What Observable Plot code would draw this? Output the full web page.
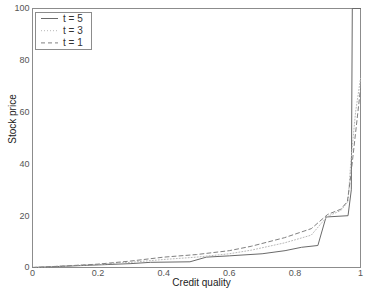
<!DOCTYPE html>
<html><head><meta charset="utf-8">
<script src="https://cdn.jsdelivr.net/npm/d3@7"></script>
<script src="https://cdn.jsdelivr.net/npm/@observablehq/plot@0.6"></script>
<style>
body{margin:0;background:#fff;font-family:"Liberation Sans",Arial,sans-serif;}
#wrap{position:relative;width:367px;height:290px;}
#legend{position:absolute;left:35px;top:12px;}
</style></head><body>
<div id="wrap"></div>
<script>
const seriesNames = ["t = 5", "t = 3", "t = 1"];
const xTicks = [0, 0.2, 0.4, 0.6, 0.8, 1];
const yTicks = [0, 20, 40, 60, 80, 100];

const t5x = [0, 0.1, 0.2, 0.3, 0.36, 0.48, 0.53, 0.6, 0.7, 0.77, 0.82, 0.87, 0.895, 0.962, 0.972, 0.975, 1];
const t5y = [0, 0.5, 1.0, 1.5, 2.0, 2.2, 4.0, 4.5, 5.3, 6.5, 7.8, 8.5, 19.5, 20, 30, 100, 100];

const t3x = [0, 0.1, 0.2, 0.3, 0.4, 0.5, 0.6, 0.667, 0.768, 0.85, 0.88, 0.9, 0.94, 0.962, 0.97, 0.985, 1];
const t3y = [0, 0.6, 1.2, 2.0, 3.1, 4.0, 5.3, 6.7, 9.5, 12.5, 17, 19.8, 22, 25.5, 40, 60, 73];

const t1x = [0, 0.1, 0.2, 0.3, 0.4, 0.5, 0.6, 0.667, 0.768, 0.85, 0.9, 0.94, 0.96, 0.97, 0.985, 1];
const t1y = [0, 0.6, 1.3, 2.5, 4.0, 5.0, 6.5, 8.2, 11.5, 15, 20.5, 22.5, 25.5, 35, 52, 69];

const styles = {
  "t = 5": {stroke: "#6a6a6a", dash: null},
  "t = 3": {stroke: "#b8b8b8", dash: "1,2"},
  "t = 1": {stroke: "#808080", dash: "4,3"}
};
const zip = (xs, ys, s) => xs.map((x, i) => ({x, y: ys[i], s}));
const data = {
  "t = 5": zip(t5x, t5y, "t = 5"),
  "t = 3": zip(t3x, t3y, "t = 3"),
  "t = 1": zip(t1x, t1y, "t = 1")
};

const chart = Plot.plot({
  width: 367, height: 290,
  marginLeft: 32, marginRight: 7, marginTop: 8, marginBottom: 23,
  style: {fontFamily: "'Liberation Sans', Arial, sans-serif", fontSize: "9px", color: "#555", background: "#fff"},
  x: {domain: [0, 1], ticks: xTicks, tickFormat: d => String(d), tickSize: 0, tickPadding: 2, label: null},
  y: {domain: [0, 100], ticks: yTicks, tickFormat: d => String(d), tickSize: 0, tickPadding: 3, label: null},
  marks: [
    Plot.frame({stroke: "#8c8c8c"}),
    ...seriesNames.map(n => Plot.line(data[n], {x: "x", y: "y", stroke: styles[n].stroke, strokeWidth: 1, strokeDasharray: styles[n].dash})),
    Plot.text(["Credit quality"], {frameAnchor: "bottom", textAnchor: "middle", dx: 5, dy: 18, fontSize: 10, fill: "#222"}),
    Plot.text(["Stock price"], {frameAnchor: "left", textAnchor: "middle", rotate: -90, dx: -20, dy: -19, fontSize: 10, fill: "#222"})
  ]
});
document.getElementById("wrap").appendChild(chart);

// legend
const lg = d3.select("#wrap").append("div").attr("id", "legend")
  .append("svg").attr("width", 57).attr("height", 38);
lg.append("rect").attr("x", 0.5).attr("y", 0.5).attr("width", 56).attr("height", 37)
  .attr("fill", "#fff").attr("stroke", "#8c8c8c");
seriesNames.forEach((n, i) => {
  const yy = 6.5 + i * 12.2;
  lg.append("line").attr("x1", 6).attr("x2", 23).attr("y1", yy).attr("y2", yy)
    .attr("stroke", styles[n].stroke).attr("stroke-dasharray", styles[n].dash);
  lg.append("text").attr("x", 28).attr("y", yy + 3.5).text(n)
    .attr("font-size", 10).attr("fill", "#333")
    .attr("font-family", "'Liberation Sans', Arial, sans-serif");
});
</script>
</body></html>
